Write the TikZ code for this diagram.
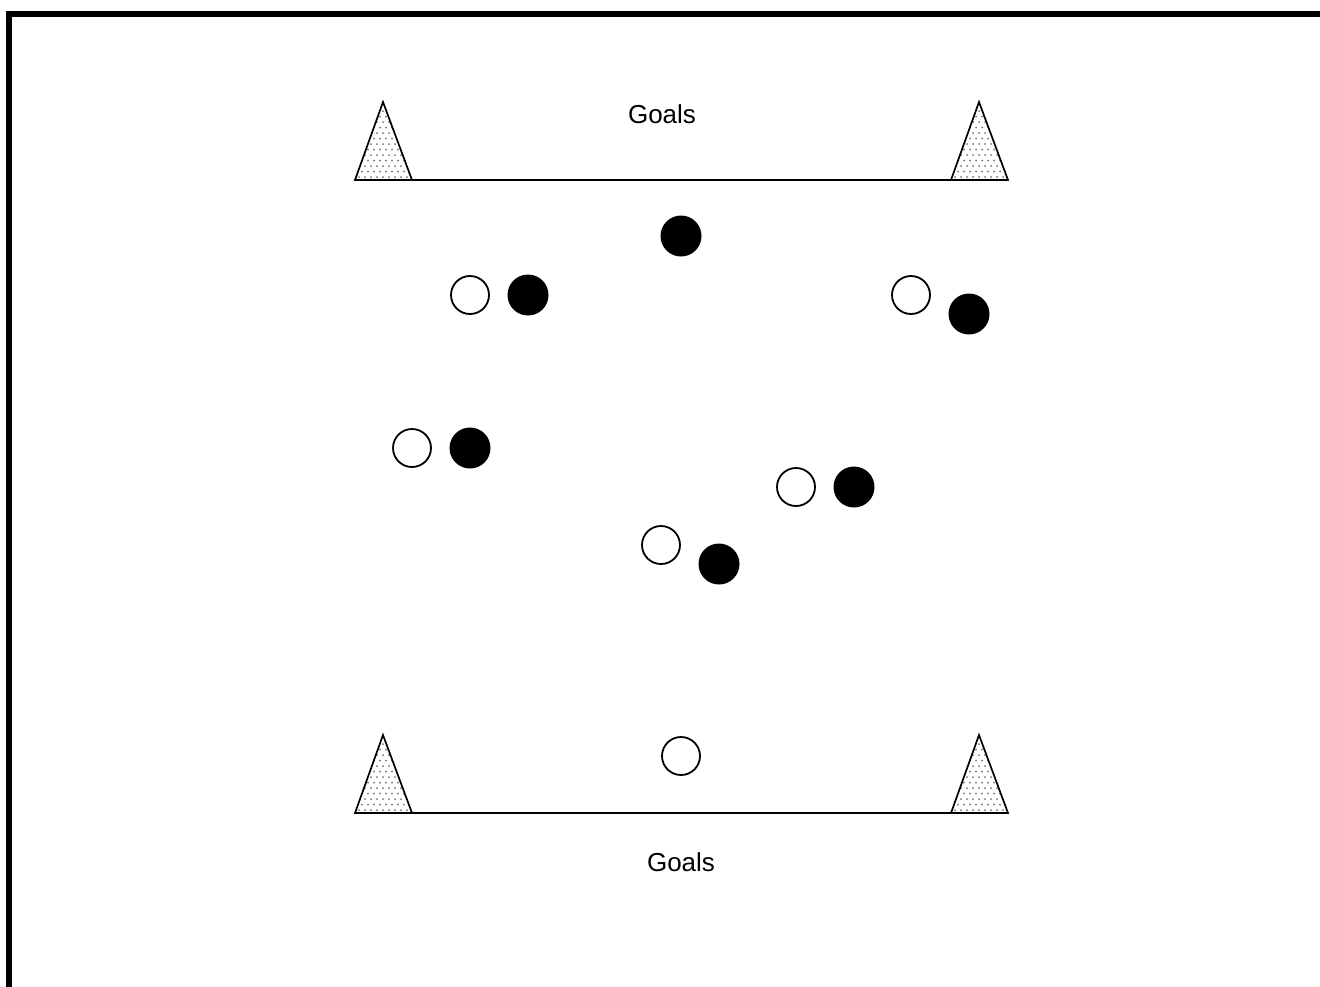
\documentclass[tikz,border=0pt]{standalone}
\usepackage{fontspec}
\setmainfont{Liberation Sans}
\begin{document}
\begin{tikzpicture}[x=1pt,y=-1pt,
  wplayer/.style={circle,draw=black,line width=1.8pt,fill=white,minimum size=38pt,inner sep=0pt},
  bplayer/.style={circle,fill=black,minimum size=41pt,inner sep=0pt},
  lbl/.style={font=\fontsize{26}{30}\selectfont,inner sep=0pt},
  conepath/.style={draw=black,line width=1.7pt,line join=miter},
  dotstyle/.style={fill=black!55},
  goalline/.style={draw=black,line width=1.5pt}]
\newcommand{\myconedraw}[2]{%
  \begin{scope}
    \clip (#1-28,#2) -- (#1,#2-78) -- (#1+29,#2) -- cycle;
    \foreach \r in {0,...,14} {
      \foreach \c in {-6,...,6} {
        \fill[dotstyle] ({#1+\c*6+mod(\r,2)*3},{#2-3-\r*5.5}) circle (1pt);
      }
    }
  \end{scope}
  \path[conepath] (#1-28,#2) -- (#1,#2-78) -- (#1+29,#2) -- cycle;
}
\useasboundingbox (0,0) rectangle (1320,986);
\fill[white] (0,0) rectangle (1320,986);
\draw[line width=6pt,line join=miter] (9,990) -- (9,14) -- (1324,14);
% top goal
\coordinate (tl) at (355,180);
\coordinate (tr) at (1008,180);
\draw[goalline] (tl) -- (tr);
\myconedraw{383}{180}
\myconedraw{979}{180}
% bottom goal
\coordinate (bl) at (355,813);
\coordinate (br) at (1008,813);
\draw[goalline] (bl) -- (br);
\myconedraw{383}{813}
\myconedraw{979}{813}
\node[lbl] (g1) at (662,114) {Goals};
\node[lbl] (g2) at (681,862) {Goals};
% players
\node[bplayer] (b1) at (681,236) {};
\node[wplayer] (w1) at (470,295) {};
\node[bplayer] (b2) at (528,295) {};
\node[wplayer] (w2) at (911,295) {};
\node[bplayer] (b3) at (969,314) {};
\node[wplayer] (w3) at (412,448) {};
\node[bplayer] (b4) at (470,448) {};
\node[wplayer] (w4) at (796,487) {};
\node[bplayer] (b5) at (854,487) {};
\node[wplayer] (w5) at (661,545) {};
\node[bplayer] (b6) at (719,564) {};
\node[wplayer] (w6) at (681,756) {};
\end{tikzpicture}
\end{document}
